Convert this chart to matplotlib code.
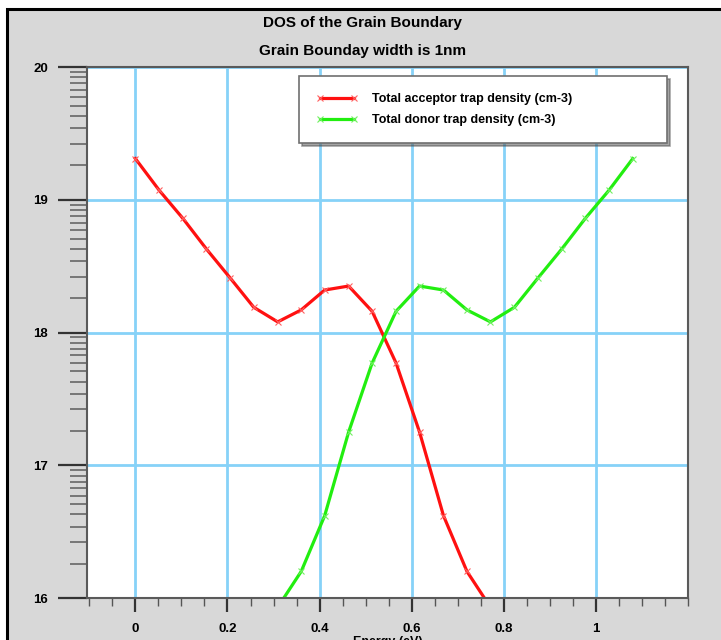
import numpy as np
import matplotlib
matplotlib.use('Agg')
import matplotlib.pyplot as plt
from matplotlib.patches import Rectangle
from matplotlib.ticker import FixedLocator, MultipleLocator

plt.rcParams['font.family'] = ['Liberation Sans', 'DejaVu Sans']

# trap densities, log10(cm-3), against energy (eV)
energy_acceptor = [0.000, 0.052, 0.103, 0.154, 0.206, 0.257, 0.309, 0.360,
                   0.411, 0.463, 0.514, 0.566, 0.617, 0.669, 0.720, 0.771]
acceptor = [19.31, 19.07, 18.86, 18.63, 18.41, 18.19, 18.08, 18.17,
            18.32, 18.35, 18.16, 17.77, 17.25, 16.62, 16.20, 15.93]

energy_donor = [0.309, 0.360, 0.411, 0.463, 0.514, 0.566, 0.617, 0.669,
                0.720, 0.771, 0.823, 0.874, 0.926, 0.977, 1.028, 1.080]
donor = [15.93, 16.20, 16.62, 17.25, 17.77, 18.16, 18.35, 18.32,
         18.17, 18.08, 18.19, 18.41, 18.63, 18.86, 19.07, 19.31]

xticks = [0, 0.2, 0.4, 0.6, 0.8, 1.0]
xticklabels = ['0', '0.2', '0.4', '0.6', '0.8', '1']
yticks = [16, 17, 18, 19, 20]

fig = plt.figure(figsize=(7.21, 6.4), dpi=100)
fig.patch.set_facecolor('white')
fig.add_artist(Rectangle((7 / 721, -0.1), 1.2, 0.986 + 0.1,
                         transform=fig.transFigure, facecolor='#d8d8d8',
                         edgecolor='black', lw=2.2, zorder=-1))

ax = fig.add_axes([0.1207, 0.0656, 0.8336, 0.8297])
ax.set_facecolor('white')

ax.plot(energy_acceptor, acceptor, color='#ff1010', lw=2.3, marker='x',
        ms=4, mew=0.8, mec='#ff6060', label='Total acceptor trap density (cm-3)')
ax.plot(energy_donor, donor, color='#22ee10', lw=2.3, marker='x',
        ms=4, mew=0.8, mec='#70f060', label='Total donor trap density (cm-3)')

ax.set_xlim(-0.105, 1.2)
ax.set_ylim(16, 20)

ax.xaxis.set_major_locator(FixedLocator(xticks))
ax.set_xticklabels(xticklabels)
ax.xaxis.set_minor_locator(MultipleLocator(0.05))
ax.yaxis.set_major_locator(FixedLocator(yticks))
ax.set_yticklabels([str(v) for v in yticks])
# log-style minor ticks within each decade
minor_y = []
for n in range(16, 20):
    minor_y += list(n + np.log10(1 + 9 * np.arange(1, 11) / 11))
ax.yaxis.set_minor_locator(FixedLocator(minor_y))

ax.grid(True, which='major', color='#86d2f8', lw=2)
ax.set_axisbelow(True)

for s in ax.spines.values():
    s.set_color('#5a5a5a')
    s.set_linewidth(1.5)

ax.tick_params(axis='x', which='major', direction='out', length=10, width=1.6,
               color='#333333', pad=8, labelsize=9.5)
ax.tick_params(axis='x', which='minor', direction='out', length=6, width=1,
               color='#555555')
ax.tick_params(axis='y', which='major', direction='out', length=21, width=1.6,
               color='#333333', pad=7, labelsize=9.5)
ax.tick_params(axis='y', which='minor', direction='out', length=12, width=1.2,
               color='#666666')
for lab in ax.get_xticklabels() + ax.get_yticklabels():
    lab.set_fontweight('bold')

ax.set_xlabel('Energy (eV)', fontsize=9, fontweight='bold', labelpad=1)

fig.text(0.503, 0.964, 'DOS of the Grain Boundary', ha='center', va='center',
         fontsize=11, fontweight='bold')
fig.text(0.503, 0.920, 'Grain Bounday width is 1nm', ha='center', va='center',
         fontsize=11, fontweight='bold')

leg = ax.legend(loc='upper left', bbox_to_anchor=(0.353, 0.866, 0.612, 0.117),
                mode='expand', fancybox=False, shadow=True, numpoints=2,
                handlelength=3.3, handletextpad=1.2,
                prop={'weight': 'bold', 'size': 9},
                borderpad=1.35, labelspacing=0.75, borderaxespad=0)
leg.get_frame().set_edgecolor('#707070')
leg.get_frame().set_linewidth(1.2)

fig.savefig('out.png', dpi=100)
